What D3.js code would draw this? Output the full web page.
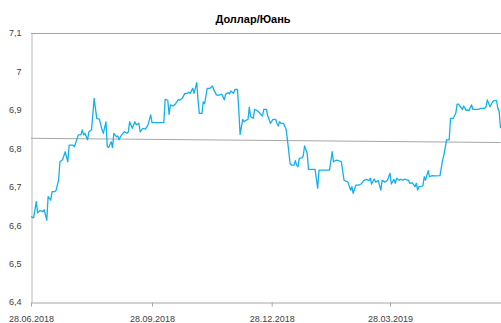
<!DOCTYPE html>
<html>
<head>
<meta charset="utf-8">
<script src="https://cdn.jsdelivr.net/npm/d3@7"></script>
<style>
  html, body { margin: 0; padding: 0; background: #fff; }
  svg { display: block; }
  text { font-family: "Liberation Sans", Arial, sans-serif; fill: #404040; }
</style>
</head>
<body>
<svg id="chart" width="501" height="323"></svg>
<script>
// USD/CNY exchange rate, days counted from the start date
const startDate = "2018-06-28";
const endDay = 357;
const dayOffset = [
  0, 2, 4, 5, 7, 9, 10, 12, 13, 15, 16, 18, 19, 21, 22, 24, 26, 28, 29, 32,
  33, 36, 38, 39, 40, 41, 43, 44, 46, 47, 48, 50, 52, 54, 55, 57, 58, 59, 61, 62,
  63, 65, 66, 67, 68, 69, 71, 73, 74, 75, 77, 79, 80, 82, 83, 85, 87, 89, 91, 92,
  101, 102, 104, 105, 106, 108, 110, 112, 113, 115, 117, 119, 120, 121, 123, 124, 126, 127, 128, 130,
  131, 132, 134, 136, 138, 139, 141, 143, 145, 147, 148, 150, 151, 152, 154, 155, 157, 158, 159, 161,
  162, 163, 165, 166, 167, 169, 170, 172, 173, 175, 176, 177, 179, 180, 181, 182, 184, 186, 187, 188,
  189, 190, 192, 194, 195, 197, 198, 200, 201, 202, 203, 204, 206, 207, 208, 210, 211, 214, 216, 218,
  219, 227, 229, 230, 232, 234, 236, 238, 239, 241, 243, 244, 245, 247, 249, 251, 253, 255, 257, 258,
  259, 261, 262, 264, 266, 267, 269, 271, 273, 274, 276, 277, 278, 280, 281, 283, 284, 286, 287, 288,
  290, 292, 293, 294, 295, 297, 298, 299, 300, 302, 303, 305, 307, 311, 313, 314, 316, 318, 319, 321,
  323, 324, 325, 326, 328, 329, 331, 332, 333, 335, 336, 340, 342, 345, 346, 347, 349, 351, 352, 354,
  355, 356, 357
];
const rate = [
  6.622, 6.619, 6.661, 6.632, 6.638, 6.635, 6.640, 6.613, 6.674, 6.665, 6.687, 6.687, 6.690, 6.717, 6.765, 6.770, 6.791, 6.765, 6.808, 6.808,
  6.804, 6.835, 6.835, 6.848, 6.835, 6.839, 6.822, 6.843, 6.848, 6.887, 6.930, 6.878, 6.876, 6.848, 6.839, 6.869, 6.804, 6.802, 6.817, 6.802,
  6.839, 6.830, 6.832, 6.822, 6.830, 6.835, 6.843, 6.839, 6.843, 6.869, 6.852, 6.869, 6.861, 6.865, 6.843, 6.852, 6.850, 6.861, 6.887, 6.867,
  6.867, 6.927, 6.925, 6.888, 6.913, 6.910, 6.916, 6.927, 6.925, 6.930, 6.943, 6.943, 6.946, 6.943, 6.956, 6.943, 6.971, 6.926, 6.891, 6.891,
  6.921, 6.916, 6.956, 6.956, 6.962, 6.952, 6.939, 6.938, 6.941, 6.926, 6.941, 6.945, 6.941, 6.949, 6.943, 6.953, 6.953, 6.900, 6.836, 6.875,
  6.869, 6.872, 6.875, 6.907, 6.882, 6.878, 6.901, 6.898, 6.895, 6.887, 6.884, 6.901, 6.901, 6.884, 6.876, 6.865, 6.875, 6.875, 6.865, 6.858,
  6.869, 6.865, 6.865, 6.849, 6.822, 6.761, 6.756, 6.756, 6.768, 6.756, 6.752, 6.774, 6.775, 6.780, 6.806, 6.787, 6.745, 6.745, 6.745, 6.696,
  6.743, 6.743, 6.791, 6.765, 6.769, 6.768, 6.765, 6.717, 6.715, 6.712, 6.691, 6.700, 6.683, 6.704, 6.704, 6.707, 6.716, 6.719, 6.716, 6.722,
  6.707, 6.720, 6.712, 6.716, 6.691, 6.717, 6.712, 6.717, 6.735, 6.707, 6.719, 6.709, 6.722, 6.717, 6.719, 6.717, 6.720, 6.717, 6.717, 6.709,
  6.710, 6.700, 6.709, 6.691, 6.700, 6.701, 6.703, 6.726, 6.717, 6.742, 6.726, 6.729, 6.728, 6.729, 6.770, 6.783, 6.822, 6.822, 6.878, 6.878,
  6.891, 6.915, 6.915, 6.910, 6.901, 6.910, 6.898, 6.900, 6.898, 6.913, 6.901, 6.901, 6.904, 6.904, 6.908, 6.926, 6.908, 6.921, 6.924, 6.924,
  6.904, 6.895, 6.852
];
// Linear trend line: value at the first and at the last day
const trendValues = [6.826, 6.815];

const title = "Доллар/Юань";
const yTicks = [6.4, 6.5, 6.6, 6.7, 6.8, 6.9, 7.0, 7.1];
const xTickDates = ["2018-06-28", "2018-09-28", "2018-12-28", "2019-03-28"];

const parse = d3.timeParse("%Y-%m-%d");
const t0 = parse(startDate);
const dayToDate = d => d3.timeDay.offset(t0, d);

const series = dayOffset.map((d, i) => ({ date: dayToDate(d), value: rate[i] }));
const trend = [
  { date: dayToDate(0), value: trendValues[0] },
  { date: dayToDate(endDay), value: trendValues[1] }
];

const svg = d3.select("#chart");
const margin = { left: 31, right: 0.5, top: 33, bottom: 21 };
const W = 501, H = 323;

const x = d3.scaleTime()
  .domain([t0, dayToDate(endDay)])
  .range([margin.left, W - margin.right]);
const y = d3.scaleLinear()
  .domain([6.4, 7.1])
  .range([H - margin.bottom, margin.top]);

const ru = d3.formatLocale({ decimal: ",", thousands: " ", grouping: [3], currency: ["", ""] });
const yFmt = ru.format("~g");
const xFmt = d3.timeFormat("%d.%m.%Y");

// top border line at the axis maximum
svg.append("line")
  .attr("x1", margin.left).attr("x2", W)
  .attr("y1", Math.round(y(7.1)) + 0.5).attr("y2", Math.round(y(7.1)) + 0.5)
  .attr("stroke", "#a6a6a6").attr("stroke-width", 1);

// y axis
const yAxis = svg.append("g")
  .attr("transform", `translate(${margin.left + 0.5},0)`)
  .call(d3.axisLeft(y).tickValues(yTicks).tickFormat(yFmt).tickSize(0).tickPadding(10));
yAxis.select(".domain").attr("stroke", "#b8b8b8");
yAxis.selectAll("text")
  .style("font-family", "'Liberation Sans', Arial, sans-serif")
  .style("font-size", "9px").attr("fill", "#404040");

// x axis
const xAxis = svg.append("g")
  .attr("transform", `translate(0,${Math.round(y(6.4)) + 0.5})`)
  .call(d3.axisBottom(x).tickValues(xTickDates.map(parse)).tickFormat(xFmt).tickSizeInner(4).tickSizeOuter(0).tickPadding(9));
xAxis.select(".domain").attr("stroke", "#a6a6a6");
xAxis.selectAll(".tick line").attr("stroke", "#a6a6a6");
xAxis.selectAll("text")
  .style("font-family", "'Liberation Sans', Arial, sans-serif")
  .style("font-size", "9px").attr("fill", "#404040");

// trend line
const lineGen = d3.line().x(d => x(d.date)).y(d => y(d.value));
svg.append("path")
  .datum(trend)
  .attr("d", lineGen)
  .attr("fill", "none")
  .attr("stroke", "#a6a6a6")
  .attr("stroke-width", 1);

// rate line
svg.append("path")
  .datum(series)
  .attr("d", lineGen)
  .attr("fill", "none")
  .attr("stroke", "#12b0ef")
  .attr("stroke-width", 1.3)
  .attr("stroke-linejoin", "round");

// title
svg.append("text")
  .attr("x", 253).attr("y", 23)
  .attr("text-anchor", "middle")
  .style("font-size", "11px")
  .style("font-weight", "bold")
  .style("fill", "#000")
  .text(title);
</script>
</body>
</html>
